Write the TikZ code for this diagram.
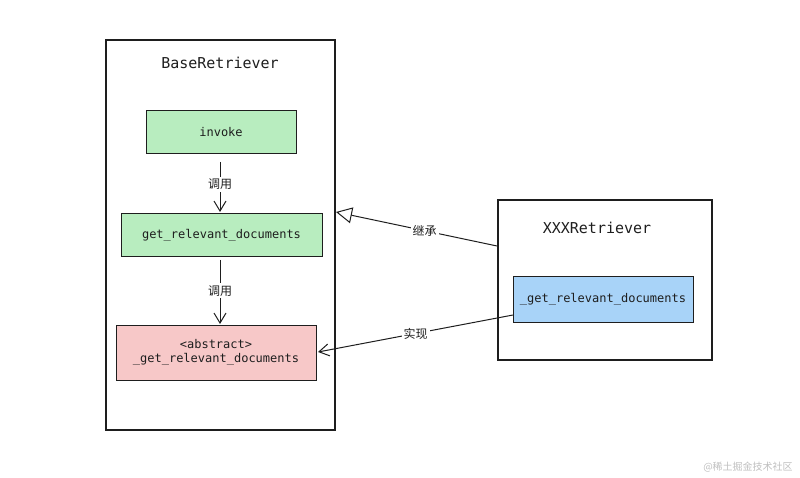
\documentclass[tikz,border=0pt]{standalone}
\usepackage{fontspec}
\setmonofont{DejaVu Sans Mono}
\newfontfamily\cjk{Noto Sans CJK SC}
\usetikzlibrary{arrows.meta}
\definecolor{grn}{HTML}{B8EDBF}
\definecolor{rd}{HTML}{F7C8C8}
\definecolor{bl}{HTML}{A8D3F8}
\definecolor{ink}{HTML}{1E1E1E}
\begin{document}
\begin{tikzpicture}[x=1pt,y=-1pt,
  frame/.style={draw=ink,line width=1.1pt},
  item/.style={draw=ink,line width=1pt,font=\ttfamily\fontsize{12}{14}\selectfont,align=center,inner sep=0pt,text=ink},
  ttl/.style={font=\ttfamily\fontsize{15}{17}\selectfont,text=ink},
  lbl/.style={font=\cjk\fontsize{12}{14}\selectfont,fill=white,inner sep=2pt,text=ink},
  conn/.style={draw=ink,line width=1pt},
  vhead/.style={-{Straight Barb[length=10pt,width=12pt,line width=1pt]}},
  trihead/.style={-{Triangle[open,length=16pt,width=16pt,line width=1pt]}}]
\useasboundingbox (0,0) rectangle (800,478);
% outer frames
\node[frame,minimum width=229pt,minimum height=390pt,inner sep=0pt] (base) at (220.5,235) {};
\node[frame,minimum width=214pt,minimum height=160pt,inner sep=0pt] (xxx) at (605,280) {};
\node[ttl] (basettl) at (220,63) {BaseRetriever};
\node[ttl] (xxxttl) at (597,228) {XXXRetriever};
% inner boxes
\node[item,fill=grn,minimum width=150pt,minimum height=43pt] (invoke) at (221,132) {invoke};
\node[item,fill=grn,minimum width=201pt,minimum height=43pt] (grd) at (221.5,235) {get\_relevant\_documents};
\node[item,fill=rd,minimum width=200pt,minimum height=55pt] (abs) at (216,352.5) {<abstract>\\\_get\_relevant\_documents};
\node[item,fill=bl,minimum width=180pt,minimum height=45pt] (impl) at (603,299.5) {\_get\_relevant\_documents};
% helper coordinates
\coordinate (a1s) at (220,162);
\coordinate (a1e) at (220,212);
\coordinate (a2s) at (220,260);
\coordinate (a2e) at (220,324);
\coordinate (inhS) at (497,246);
\coordinate (inhE) at (336,212);
\coordinate (impS) at (513,315);
\coordinate (impE) at (318,352);
% connectors
\draw[conn,vhead] (a1s) -- node[lbl,pos=0.45] (l1) {调用} (a1e);
\draw[conn,vhead] (a2s) -- node[lbl,pos=0.48] (l2) {调用} (a2e);
\draw[conn,trihead] (inhS) -- node[lbl,pos=0.45] (l3) {继承} (inhE);
\draw[conn,vhead] (impS) -- node[lbl,pos=0.5] (l4) {实现} (impE);
% watermark
\node[font=\cjk\fontsize{10}{12}\selectfont,text=black!25] (wm) at (748,467) {@稀土掘金技术社区};
\end{tikzpicture}
\end{document}
